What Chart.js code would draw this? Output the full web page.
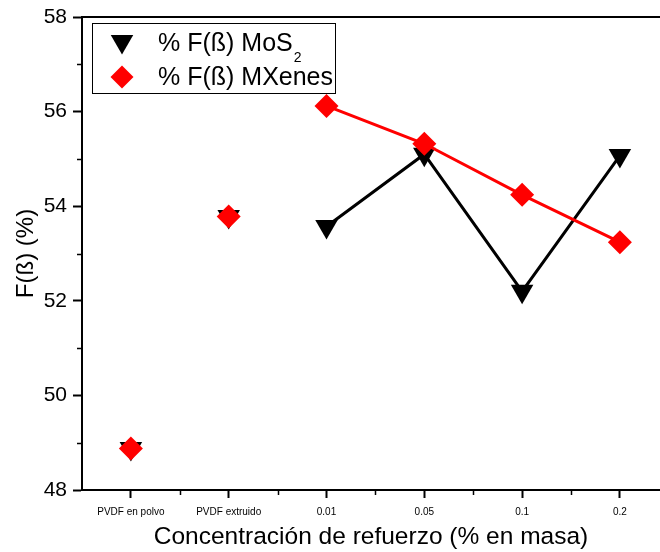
<!DOCTYPE html>
<html>
<head>
<meta charset="utf-8">
<script src="https://cdn.jsdelivr.net/npm/chart.js@4.4.1/dist/chart.umd.min.js"></script>
<style>
  html, body { margin: 0; padding: 0; background: #fff; overflow: hidden; }
  #wrap { position: relative; width: 660px; height: 552px; }
</style>
</head>
<body>
<div id="wrap"><canvas id="chartContainer"></canvas></div>
<script>
// categories on the x axis
const categories = ["PVDF en polvo", "PVDF extruido", "0.01", "0.05", "0.1", "0.2"];
// F(ß) values, %
const mos2Values = [48.88, 53.78, 53.57, 55.1, 52.2, 55.07];
const mxenesValues = [48.88, 53.78, 56.12, 55.32, 54.24, 53.24];
// y axis major ticks
const yTicks = [48, 50, 52, 54, 56, 58];

const FONT = "'Liberation Sans', Arial, sans-serif";
Chart.defaults.font.family = FONT;
Chart.defaults.color = "#000";

// points for the two unconnected reference samples are shown without a line
const hideFirstSegments = color => ctx => (ctx.p0DataIndex < 2 ? "rgba(0,0,0,0)" : color);

// minor ticks, top frame line and the boxed legend
const frameAndLegend = {
  id: "frameAndLegend",
  afterDraw(chart) {
    const { ctx, chartArea: a, scales } = chart;
    ctx.save();
    ctx.strokeStyle = "#000";
    ctx.lineWidth = 2;
    ctx.beginPath();
    ctx.moveTo(a.left, a.top);
    ctx.lineTo(a.right, a.top);
    ctx.stroke();

    ctx.lineWidth = 1.5;
    ctx.beginPath();
    for (let v = 49; v < 58; v += 2) {
      const y = Math.round(scales.y.getPixelForValue(v)) + 0.5;
      ctx.moveTo(a.left - 5, y);
      ctx.lineTo(a.left, y);
    }
    for (let i = 0.5; i < categories.length; i += 1) {
      const x = Math.round(scales.x.getPixelForValue(i)) + 0.5;
      ctx.moveTo(x, a.bottom);
      ctx.lineTo(x, a.bottom + 5);
    }
    ctx.stroke();

    // legend box
    ctx.lineWidth = 1;
    ctx.strokeRect(92.5, 23.5, 243, 70);
    ctx.fillStyle = "#000";
    Chart.helpers.drawPoint(ctx, { pointStyle: "triangle", radius: 13, rotation: 180, borderWidth: 0 }, 122, 41.5);
    ctx.fillStyle = "#ff0000";
    Chart.helpers.drawPoint(ctx, { pointStyle: "rectRot", radius: 11.5, rotation: 0, borderWidth: 0 }, 122, 77);

    ctx.fillStyle = "#000";
    ctx.textBaseline = "alphabetic";
    ctx.textAlign = "left";
    ctx.font = "25px " + FONT;
    const label = "% F(ß) MoS";
    ctx.fillText(label, 158, 51);
    const w = ctx.measureText(label).width;
    ctx.font = "14px " + FONT;
    ctx.fillText("2", 158 + w + 1, 62);
    ctx.font = "25px " + FONT;
    ctx.fillText("% F(ß) MXenes", 158, 84.5);
    ctx.restore();
  }
};

const data = {
  datasets: [
    {
      label: "% F(ß) MoS2",
      data: mos2Values.map((v, i) => ({ x: i, y: v })),
      order: 1,
      borderColor: "#000",
      borderWidth: 3,
      segment: { borderColor: hideFirstSegments("#000") },
      pointStyle: "triangle",
      rotation: 180,
      pointRadius: 13,
      pointHoverRadius: 13,
      pointBackgroundColor: "#000",
      pointBorderWidth: 0,
      tension: 0
    },
    {
      label: "% F(ß) MXenes",
      data: mxenesValues.map((v, i) => ({ x: i, y: v })),
      order: 0,
      borderColor: "#ff0000",
      borderWidth: 3,
      segment: { borderColor: hideFirstSegments("#ff0000") },
      pointStyle: "rectRot",
      pointRadius: 12,
      pointHoverRadius: 12,
      pointBackgroundColor: "#ff0000",
      pointBorderWidth: 0,
      tension: 0
    }
  ]
};

const config = {
  type: "line",
  data: data,
  options: {
    responsive: true,
    maintainAspectRatio: false,
    animation: false,
    layout: {
      autoPadding: false, // big markers would otherwise shrink the plot area
      padding: { top: 17, right: 0, left: 0, bottom: 0 }
    },
    scales: {
      x: {
        type: "linear",
        min: -0.5,
        max: 5.41,
        afterFit: scale => {
          scale.height = 62;
          scale.paddingLeft = 0;
          scale.paddingRight = 0;
        },
        afterBuildTicks: scale => {
          scale.ticks = categories.map((c, i) => ({ value: i }));
        },
        ticks: {
          autoSkip: false,
          maxRotation: 0,
          padding: 8,
          font: { size: 10 },
          callback: value => categories[value]
        },
        grid: {
          drawOnChartArea: false,
          tickLength: 8,
          tickWidth: 2,
          tickColor: "#000"
        },
        border: { color: "#000", width: 2 },
        title: {
          display: true,
          text: "Concentración de refuerzo (% en masa)",
          font: { size: 24.5 },
          padding: { top: 0, bottom: 0 }
        }
      },
      y: {
        min: 48,
        max: 58,
        afterFit: scale => {
          scale.width = 82;
          scale.paddingTop = 0;
          scale.paddingBottom = 0;
        },
        afterBuildTicks: scale => {
          scale.ticks = yTicks.map(v => ({ value: v }));
        },
        ticks: {
          padding: 6,
          font: { size: 21 }
        },
        grid: {
          drawOnChartArea: false,
          tickLength: 9,
          tickWidth: 2,
          tickColor: "#000"
        },
        border: { color: "#000", width: 2 },
        title: {
          display: true,
          text: "F(ß) (%)",
          font: { size: 24 },
          padding: { top: 12, bottom: 0 }
        }
      }
    },
    plugins: {
      legend: { display: false },
      tooltip: { enabled: false }
    }
  },
  plugins: [frameAndLegend]
};

const ctx = document.getElementById("chartContainer").getContext("2d");
const fBetaChart = new Chart(ctx, config);
</script>
</body>
</html>
